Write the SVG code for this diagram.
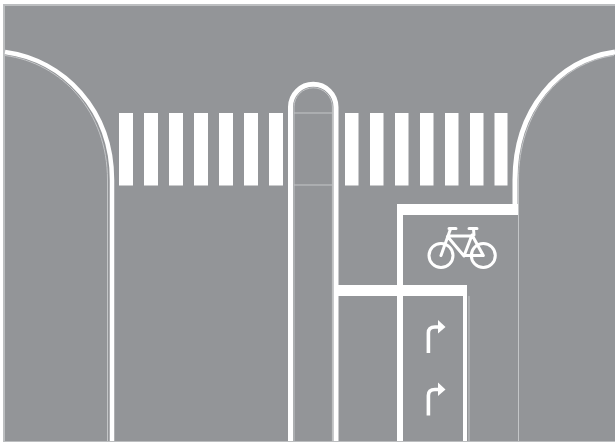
<svg xmlns="http://www.w3.org/2000/svg" width="615" height="443" viewBox="0 0 615 443">
<defs>
<style>
.w{fill:none;stroke:#fff}
.t{fill:none;stroke:#c4c6c8;stroke-width:1}
.s{fill:#fff}
</style>
<g id="arrow"><path class="w" stroke-width="3.600" d="M428.400 353V333Q428.400 327 435 327H440"/><path class="s" d="M438 320L445.500 327L438 333.500Z"/></g>
</defs>
<rect width="615" height="443" fill="#fff"/>
<rect x="3" y="4" width="612" height="438" fill="#bcbec0"/>
<rect x="5" y="6" width="610" height="435" fill="#939598"/>
<g id="curbs">
<path class="t" d="M5 55.500C62 63 107.500 112 107.500 180V441"/>
<path class="w" stroke-width="4.500" d="M5 52C64 60 112 110 112 180V441"/>
<path class="t" d="M614 55.500C560 63 518.500 112 518.500 180V441"/>
<path class="w" stroke-width="5" d="M615 52C558 60 515 110 515 180V206.500"/>
</g>
<g id="crossing">
<rect class="s" x="119" y="113" width="14" height="72.500"/>
<rect class="s" x="144" y="113" width="14" height="72.500"/>
<rect class="s" x="169" y="113" width="14" height="72.500"/>
<rect class="s" x="194" y="113" width="14" height="72.500"/>
<rect class="s" x="219" y="113" width="14" height="72.500"/>
<rect class="s" x="244" y="113" width="14" height="72.500"/>
<rect class="s" x="269" y="113" width="14" height="72.500"/>
<rect class="s" x="345" y="113" width="13.500" height="72.500"/>
<rect class="s" x="370" y="113" width="13.500" height="72.500"/>
<rect class="s" x="395" y="113" width="13.500" height="72.500"/>
<rect class="s" x="420" y="113" width="13.500" height="72.500"/>
<rect class="s" x="445" y="113" width="13.500" height="72.500"/>
<rect class="s" x="470" y="113" width="13.500" height="72.500"/>
<rect class="s" x="494.500" y="113" width="13" height="72.500"/>
</g>
<g id="island">
<path class="w" stroke-width="5" d="M290.500 441V107A22.750 22.750 0 0 1 336 107V441"/>
<path class="t" d="M294 441V107A19.200 19.200 0 0 1 332.400 107V441"/>
<path class="t" d="M294 113H332.400M294 185H332.400"/>
</g>
<g id="lanes">
<path class="s" d="M397 204H518V215H403V285H467V441H463V296H403V441H397V296H338V285H397Z"/>
<path class="t" d="M469 296V441"/>
</g>
<g id="bike" stroke-linecap="round" stroke-linejoin="round">
<circle class="w" stroke-width="3" cx="441" cy="255.500" r="12"/>
<circle class="w" stroke-width="3" cx="483.300" cy="255.500" r="12"/>
<path class="w" stroke-width="3" d="M441 255.500L450.500 229M449 228.500H456M447.500 236.500L464 256L472 235L483.300 255.500H464M450 236H473M474 235L473.500 229M469 228.500H477"/>
</g>
<use id="arrow-1" href="#arrow"/>
<use id="arrow-2" href="#arrow" y="62.500"/>
</svg>
